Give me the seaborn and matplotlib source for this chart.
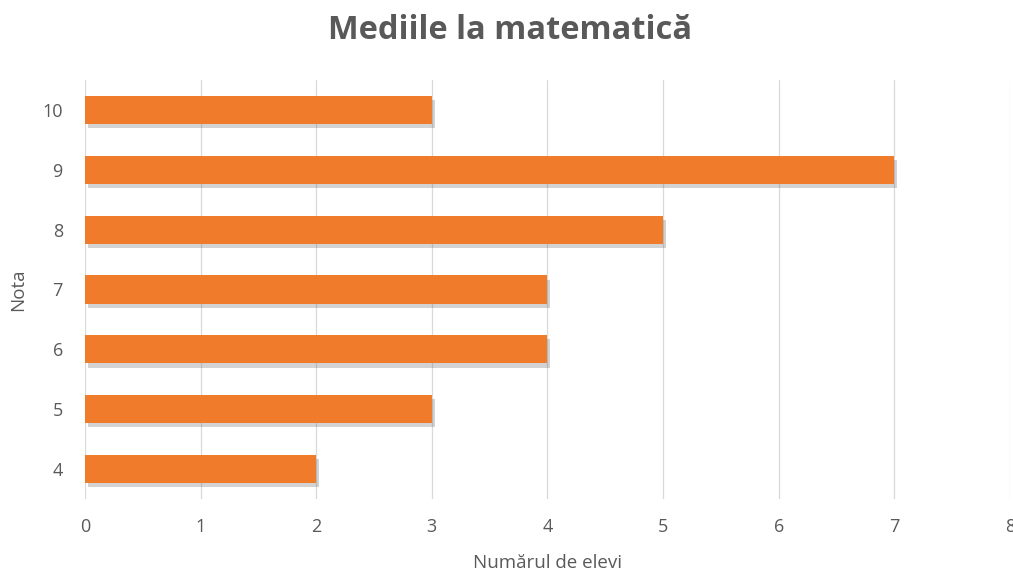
import matplotlib
matplotlib.use("Agg")
import matplotlib.pyplot as plt
import matplotlib.patheffects as pe
import seaborn as sns
import pandas as pd

# chart data
note = ["10", "9", "8", "7", "6", "5", "4"]
elevi = [3, 7, 5, 4, 4, 3, 2]

df = pd.DataFrame({"Nota": note, "Elevi": elevi})

sns.set_style("white")
plt.rcParams["font.family"] = ["Open Sans", "DejaVu Sans"]

fig = plt.figure(figsize=(10.13, 5.71), dpi=100)
ax = fig.add_axes([0.0839, 0.126, 0.913, 0.734])

sns.barplot(data=df, x="Elevi", y="Nota", order=note, color="#F07B2B",
            width=0.47, saturation=1, linewidth=0, ax=ax)
for bar in ax.patches:
    bar.set_path_effects([pe.SimplePatchShadow(offset=(2, -3), shadow_rgbFace="#6e6e6e", alpha=0.3),
                          pe.Normal()])

ax.set_xlim(0, 8)
ax.set_xticks(range(0, 9))
ax.grid(axis="x", color="#d9d9d9", linewidth=0.9)
ax.set_axisbelow(True)
for s in ax.spines.values():
    s.set_visible(False)
ax.tick_params(axis="both", length=0, colors="#595959", labelsize=13)
ax.tick_params(axis="y", pad=16)
ax.tick_params(axis="x", pad=14)

ax.set_xlabel("Numărul de elevi", color="#595959", fontsize=13.5)
ax.set_ylabel("Nota", color="#595959", fontsize=13.5)
ax.xaxis.set_label_coords(0.5, -0.131)
ax.yaxis.set_label_coords(-0.0627, 0.5)
fig.suptitle("Mediile la matematică", x=0.504, y=0.975, fontsize=23.5, fontweight="bold", color="#595959")

fig.savefig("out.png", dpi=100)
